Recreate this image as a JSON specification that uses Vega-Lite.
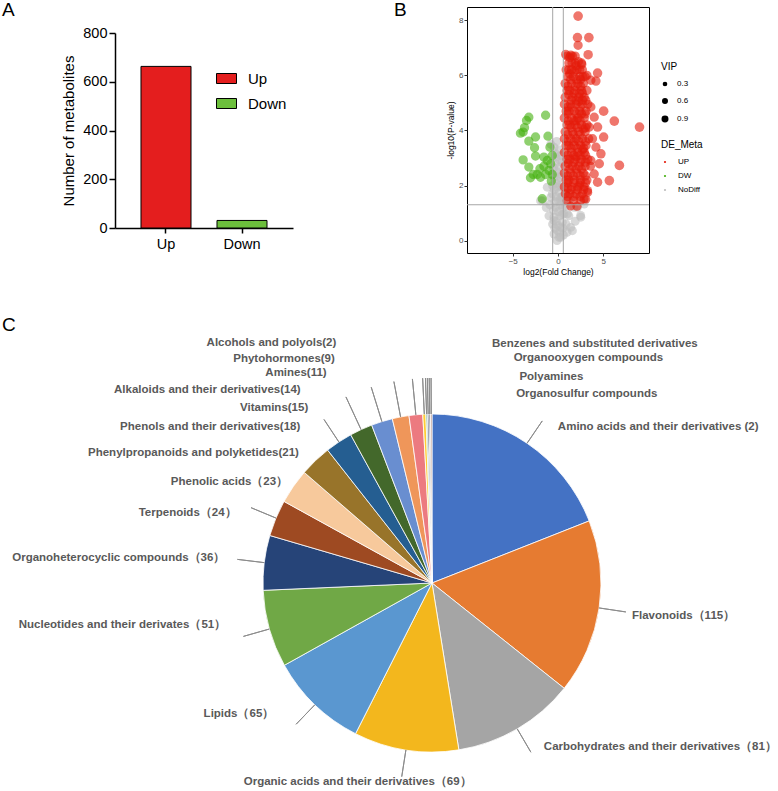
{
  "$schema": "https://vega.github.io/schema/vega-lite/v6.json",
  "padding": {"left": 2, "top": 0, "right": 0, "bottom": 0},
  "config": {"view": {"stroke": null}, "font": "Liberation Sans"},
  "datasets": {
    "bars": [{"g": "Up", "n": 663}, {"g": "Down", "n": 31}],
    "pie": [
      {"o": 1, "n": 131, "lab": "Amino acids and their derivatives (2)"},
      {"o": 2, "n": 115, "lab": "Flavonoids（115）"},
      {"o": 3, "n": 81, "lab": "Carbohydrates and their derivatives（81）"},
      {"o": 4, "n": 69, "lab": "Organic acids and their derivatives（69）"},
      {"o": 5, "n": 65, "lab": "Lipids（65）"},
      {"o": 6, "n": 51, "lab": "Nucleotides and their derivates（51）"},
      {"o": 7, "n": 36, "lab": "Organoheterocyclic compounds（36）"},
      {"o": 8, "n": 24, "lab": "Terpenoids（24）"},
      {"o": 9, "n": 23, "lab": "Phenolic acids（23）"},
      {"o": 10, "n": 21, "lab": "Phenylpropanoids and polyketides(21)"},
      {"o": 11, "n": 18, "lab": "Phenols and their derivatives(18)"},
      {"o": 12, "n": 15, "lab": "Vitamins(15)"},
      {"o": 13, "n": 14, "lab": "Alkaloids and their derivatives(14)"},
      {"o": 14, "n": 11, "lab": "Amines(11)"},
      {"o": 15, "n": 9, "lab": "Phytohormones(9)"},
      {"o": 16, "n": 2, "lab": "Alcohols and polyols(2)"},
      {"o": 17, "n": 1, "lab": "Benzenes and substituted derivatives"},
      {"o": 18, "n": 1, "lab": "Organooxygen compounds"},
      {"o": 19, "n": 1, "lab": "Polyamines"},
      {"o": 20, "n": 1, "lab": "Organosulfur compounds"}
    ],
    "volcano": [
      {"x": -0.8, "y": 3.5, "v": 2.4, "g": "NoDiff"}, {"x": -0.25, "y": 3.15, "v": 2.4, "g": "NoDiff"}, {"x": 0.11, "y": 2.67, "v": 2.4, "g": "NoDiff"}, {"x": -0.44, "y": 2.3, "v": 2.4, "g": "NoDiff"},
      {"x": -0.07, "y": 1.94, "v": 2.4, "g": "NoDiff"}, {"x": -0.8, "y": 1.57, "v": 2.4, "g": "NoDiff"}, {"x": 0.3, "y": 1.57, "v": 2.4, "g": "NoDiff"}, {"x": -0.25, "y": 1.21, "v": 2.4, "g": "NoDiff"},
      {"x": 0.66, "y": 0.97, "v": 2.4, "g": "NoDiff"}, {"x": -0.44, "y": 0.73, "v": 2.4, "g": "NoDiff"}, {"x": 0.3, "y": 0.48, "v": 2.4, "g": "NoDiff"}, {"x": 1.4, "y": 0.48, "v": 2.4, "g": "NoDiff"},
      {"x": 2.5, "y": 0.91, "v": 2.4, "g": "NoDiff"}, {"x": -0.44, "y": 0.24, "v": 2.4, "g": "NoDiff"}, {"x": 0.11, "y": 0.12, "v": 2.4, "g": "NoDiff"}, {"x": 1.77, "y": 1.21, "v": 2.4, "g": "NoDiff"},
      {"x": 2.87, "y": 1.45, "v": 2.4, "g": "NoDiff"}, {"x": -1.72, "y": 1.45, "v": 2.4, "g": "NoDiff"}, {"x": -0.44, "y": 3.39, "v": 2.4, "g": "NoDiff"}, {"x": -0.26, "y": 3.03, "v": 2.4, "g": "NoDiff"},
      {"x": 0.3, "y": 3.09, "v": 2.4, "g": "NoDiff"}, {"x": -0.44, "y": 2.42, "v": 2.4, "g": "NoDiff"}, {"x": -0.07, "y": 2.18, "v": 2.4, "g": "NoDiff"}, {"x": 0.48, "y": 1.94, "v": 2.4, "g": "NoDiff"},
      {"x": -0.63, "y": 1.7, "v": 2.4, "g": "NoDiff"}, {"x": 0.3, "y": 1.45, "v": 2.4, "g": "NoDiff"}, {"x": 1.04, "y": 0.97, "v": 2.4, "g": "NoDiff"}, {"x": -0.44, "y": 0.85, "v": 2.4, "g": "NoDiff"},
      {"x": 0.48, "y": 0.67, "v": 2.4, "g": "NoDiff"}, {"x": 1.59, "y": 0.36, "v": 2.4, "g": "NoDiff"}, {"x": -0.07, "y": 0.36, "v": 2.4, "g": "NoDiff"}, {"x": 2.52, "y": 0.85, "v": 2.4, "g": "NoDiff"},
      {"x": 2.15, "y": 1.21, "v": 2.4, "g": "NoDiff"}, {"x": 1.22, "y": 1.45, "v": 2.4, "g": "NoDiff"}, {"x": 0.3, "y": 0.12, "v": 2.4, "g": "NoDiff"}, {"x": 2.89, "y": 1.33, "v": 2.4, "g": "NoDiff"},
      {"x": 0.85, "y": 1.7, "v": 2.4, "g": "NoDiff"}, {"x": -1.19, "y": 1.94, "v": 2.4, "g": "NoDiff"}, {"x": -1.93, "y": 1.45, "v": 2.4, "g": "NoDiff"}, {"x": 0.0, "y": 0.55, "v": 2.4, "g": "NoDiff"},
      {"x": 0.2, "y": 0.9, "v": 2.4, "g": "NoDiff"}, {"x": -0.2, "y": 1.6, "v": 2.4, "g": "NoDiff"}, {"x": 0.4, "y": 2.4, "v": 2.4, "g": "NoDiff"}, {"x": -0.3, "y": 2.8, "v": 2.4, "g": "NoDiff"},
      {"x": 0.1, "y": 3.3, "v": 2.4, "g": "NoDiff"}, {"x": -0.6, "y": 2.0, "v": 2.4, "g": "NoDiff"}, {"x": 0.5, "y": 1.2, "v": 2.4, "g": "NoDiff"}, {"x": -0.1, "y": 0.0, "v": 2.4, "g": "NoDiff"},
      {"x": 0.6, "y": 0.2, "v": 2.4, "g": "NoDiff"}, {"x": -0.5, "y": 1.1, "v": 2.4, "g": "NoDiff"}, {"x": 0.2, "y": 2.0, "v": 2.4, "g": "NoDiff"}, {"x": -0.1, "y": 2.5, "v": 2.4, "g": "NoDiff"},
      {"x": 0.45, "y": 2.85, "v": 2.4, "g": "NoDiff"}, {"x": 0.9, "y": 0.6, "v": 2.4, "g": "NoDiff"}, {"x": 1.2, "y": 0.9, "v": 2.4, "g": "NoDiff"}, {"x": 0.8, "y": 1.25, "v": 2.4, "g": "NoDiff"},
      {"x": -0.9, "y": 1.3, "v": 2.4, "g": "NoDiff"}, {"x": -0.2, "y": 0.7, "v": 2.4, "g": "NoDiff"}, {"x": 0.25, "y": 1.3, "v": 2.4, "g": "NoDiff"},
      {"x": -0.35, "y": 0.45, "v": 2.4, "g": "NoDiff"}, {"x": 0.15, "y": 0.3, "v": 2.4, "g": "NoDiff"}, {"x": 0.55, "y": 0.45, "v": 2.4, "g": "NoDiff"}, {"x": -0.6, "y": 0.6, "v": 2.4, "g": "NoDiff"},
      {"x": 0.05, "y": 1.05, "v": 2.4, "g": "NoDiff"}, {"x": 0.45, "y": 0.95, "v": 2.4, "g": "NoDiff"}, {"x": -0.35, "y": 1.4, "v": 2.4, "g": "NoDiff"}, {"x": 0.05, "y": 1.45, "v": 2.4, "g": "NoDiff"},
      {"x": 0.5, "y": 1.6, "v": 2.4, "g": "NoDiff"}, {"x": -0.4, "y": 1.85, "v": 2.4, "g": "NoDiff"}, {"x": 0.15, "y": 1.75, "v": 2.4, "g": "NoDiff"}, {"x": -0.25, "y": 2.1, "v": 2.4, "g": "NoDiff"},
      {"x": 0.25, "y": 2.3, "v": 2.4, "g": "NoDiff"}, {"x": -0.5, "y": 2.65, "v": 2.4, "g": "NoDiff"}, {"x": 0.1, "y": 2.95, "v": 2.4, "g": "NoDiff"}, {"x": -0.15, "y": 3.6, "v": 2.4, "g": "NoDiff"},
      {"x": 1.0, "y": 0.3, "v": 2.4, "g": "NoDiff"}, {"x": 1.9, "y": 0.7, "v": 2.4, "g": "NoDiff"}, {"x": -1.3, "y": 1.2, "v": 2.4, "g": "NoDiff"}, {"x": -1.0, "y": 0.9, "v": 2.4, "g": "NoDiff"},
      {"x": -3.22, "y": 4.48, "v": 2.6, "g": "DW"}, {"x": -3.48, "y": 4.36, "v": 2.6, "g": "DW"}, {"x": -3.7, "y": 4.1, "v": 2.6, "g": "DW"}, {"x": -4.15, "y": 3.9, "v": 2.6, "g": "DW"},
      {"x": -3.85, "y": 3.94, "v": 2.6, "g": "DW"}, {"x": -2.48, "y": 3.76, "v": 2.6, "g": "DW"}, {"x": -3.22, "y": 3.61, "v": 2.6, "g": "DW"}, {"x": -2.59, "y": 3.37, "v": 2.6, "g": "DW"},
      {"x": -2.48, "y": 3.07, "v": 2.6, "g": "DW"}, {"x": -3.85, "y": 2.93, "v": 2.6, "g": "DW"}, {"x": -3.22, "y": 2.67, "v": 2.6, "g": "DW"}, {"x": -2.74, "y": 2.4, "v": 2.6, "g": "DW"},
      {"x": -3.04, "y": 2.28, "v": 2.6, "g": "DW"}, {"x": -2.3, "y": 2.4, "v": 2.6, "g": "DW"}, {"x": -1.37, "y": 4.55, "v": 2.6, "g": "DW"}, {"x": -1.11, "y": 3.79, "v": 2.6, "g": "DW"},
      {"x": -0.89, "y": 3.39, "v": 2.6, "g": "DW"}, {"x": -1.56, "y": 2.7, "v": 2.6, "g": "DW"}, {"x": -0.81, "y": 2.79, "v": 2.6, "g": "DW"}, {"x": -1.0, "y": 2.55, "v": 2.6, "g": "DW"},
      {"x": -1.37, "y": 2.4, "v": 2.6, "g": "DW"}, {"x": -0.63, "y": 2.4, "v": 2.6, "g": "DW"}, {"x": -0.74, "y": 2.16, "v": 2.6, "g": "DW"}, {"x": -1.74, "y": 1.52, "v": 2.6, "g": "DW"},
      {"x": -2.0, "y": 2.61, "v": 2.6, "g": "DW"}, {"x": -1.56, "y": 3.03, "v": 2.6, "g": "DW"}, {"x": -0.63, "y": 3.09, "v": 2.6, "g": "DW"}, {"x": -1.93, "y": 2.3, "v": 2.6, "g": "DW"},
      {"x": -1.19, "y": 2.91, "v": 2.6, "g": "DW"},
      {"x": 1.4, "y": 1.25, "v": 2.3, "g": "UP"}, {"x": 2.1, "y": 1.25, "v": 2.5, "g": "UP"}, {"x": 1.0, "y": 1.45, "v": 2.4, "g": "UP"}, {"x": 1.7, "y": 1.45, "v": 2.6, "g": "UP"},
      {"x": 2.5, "y": 1.45, "v": 2.4, "g": "UP"}, {"x": 3.1, "y": 1.5, "v": 2.2, "g": "UP"}, {"x": 0.8, "y": 1.7, "v": 2.5, "g": "UP"}, {"x": 1.3, "y": 1.7, "v": 2.6, "g": "UP"},
      {"x": 2.0, "y": 1.7, "v": 2.7, "g": "UP"}, {"x": 2.7, "y": 1.7, "v": 2.5, "g": "UP"}, {"x": 3.3, "y": 1.75, "v": 2.3, "g": "UP"}, {"x": 0.7, "y": 1.95, "v": 2.6, "g": "UP"},
      {"x": 1.5, "y": 1.95, "v": 2.7, "g": "UP"}, {"x": 2.2, "y": 1.95, "v": 2.6, "g": "UP"}, {"x": 2.9, "y": 1.95, "v": 2.5, "g": "UP"}, {"x": 0.9, "y": 2.2, "v": 2.6, "g": "UP"},
      {"x": 1.2, "y": 2.2, "v": 2.7, "g": "UP"}, {"x": 1.8, "y": 2.2, "v": 2.6, "g": "UP"}, {"x": 2.5, "y": 2.2, "v": 2.7, "g": "UP"}, {"x": 3.2, "y": 2.2, "v": 2.5, "g": "UP"},
      {"x": 0.7, "y": 2.45, "v": 2.6, "g": "UP"}, {"x": 1.4, "y": 2.45, "v": 2.7, "g": "UP"}, {"x": 2.1, "y": 2.45, "v": 2.6, "g": "UP"}, {"x": 2.8, "y": 2.45, "v": 2.6, "g": "UP"},
      {"x": 0.8, "y": 2.7, "v": 2.7, "g": "UP"}, {"x": 1.6, "y": 2.7, "v": 2.6, "g": "UP"}, {"x": 2.3, "y": 2.7, "v": 2.7, "g": "UP"}, {"x": 3.0, "y": 2.7, "v": 2.6, "g": "UP"},
      {"x": 3.6, "y": 2.7, "v": 2.4, "g": "UP"}, {"x": 1.0, "y": 2.95, "v": 2.6, "g": "UP"}, {"x": 1.3, "y": 2.95, "v": 2.7, "g": "UP"}, {"x": 1.9, "y": 2.95, "v": 2.6, "g": "UP"},
      {"x": 2.6, "y": 2.95, "v": 2.7, "g": "UP"}, {"x": 3.3, "y": 2.95, "v": 2.5, "g": "UP"}, {"x": 0.7, "y": 3.2, "v": 2.6, "g": "UP"}, {"x": 1.5, "y": 3.2, "v": 2.7, "g": "UP"},
      {"x": 2.2, "y": 3.2, "v": 2.6, "g": "UP"}, {"x": 2.9, "y": 3.2, "v": 2.7, "g": "UP"}, {"x": 0.9, "y": 3.45, "v": 2.7, "g": "UP"}, {"x": 1.2, "y": 3.45, "v": 2.6, "g": "UP"},
      {"x": 1.8, "y": 3.45, "v": 2.7, "g": "UP"}, {"x": 2.5, "y": 3.45, "v": 2.6, "g": "UP"}, {"x": 3.1, "y": 3.45, "v": 2.6, "g": "UP"}, {"x": 0.7, "y": 3.7, "v": 2.6, "g": "UP"},
      {"x": 1.4, "y": 3.7, "v": 2.7, "g": "UP"}, {"x": 2.0, "y": 3.7, "v": 2.6, "g": "UP"}, {"x": 2.7, "y": 3.7, "v": 2.7, "g": "UP"}, {"x": 3.4, "y": 3.7, "v": 2.5, "g": "UP"},
      {"x": 0.8, "y": 3.95, "v": 2.7, "g": "UP"}, {"x": 1.6, "y": 3.95, "v": 2.6, "g": "UP"}, {"x": 2.3, "y": 3.95, "v": 2.7, "g": "UP"}, {"x": 3.0, "y": 3.95, "v": 2.6, "g": "UP"},
      {"x": 1.0, "y": 4.2, "v": 2.6, "g": "UP"}, {"x": 1.3, "y": 4.2, "v": 2.7, "g": "UP"}, {"x": 1.9, "y": 4.2, "v": 2.6, "g": "UP"}, {"x": 2.6, "y": 4.2, "v": 2.7, "g": "UP"},
      {"x": 3.2, "y": 4.2, "v": 2.6, "g": "UP"}, {"x": 0.7, "y": 4.45, "v": 2.7, "g": "UP"}, {"x": 1.5, "y": 4.45, "v": 2.6, "g": "UP"}, {"x": 2.2, "y": 4.45, "v": 2.7, "g": "UP"},
      {"x": 2.9, "y": 4.45, "v": 2.6, "g": "UP"}, {"x": 0.9, "y": 4.7, "v": 2.6, "g": "UP"}, {"x": 1.2, "y": 4.7, "v": 2.7, "g": "UP"}, {"x": 1.8, "y": 4.7, "v": 2.6, "g": "UP"},
      {"x": 2.4, "y": 4.7, "v": 2.7, "g": "UP"}, {"x": 3.1, "y": 4.7, "v": 2.6, "g": "UP"}, {"x": 0.7, "y": 4.95, "v": 2.6, "g": "UP"}, {"x": 1.4, "y": 4.95, "v": 2.7, "g": "UP"},
      {"x": 2.0, "y": 4.95, "v": 2.6, "g": "UP"}, {"x": 2.7, "y": 4.95, "v": 2.7, "g": "UP"}, {"x": 3.3, "y": 4.95, "v": 2.5, "g": "UP"}, {"x": 0.8, "y": 5.2, "v": 2.7, "g": "UP"},
      {"x": 1.6, "y": 5.2, "v": 2.6, "g": "UP"}, {"x": 2.3, "y": 5.2, "v": 2.7, "g": "UP"}, {"x": 2.9, "y": 5.2, "v": 2.6, "g": "UP"}, {"x": 1.0, "y": 5.45, "v": 2.6, "g": "UP"},
      {"x": 1.3, "y": 5.45, "v": 2.7, "g": "UP"}, {"x": 1.9, "y": 5.45, "v": 2.6, "g": "UP"}, {"x": 2.6, "y": 5.45, "v": 2.7, "g": "UP"}, {"x": 3.2, "y": 5.45, "v": 2.6, "g": "UP"},
      {"x": 0.8, "y": 5.7, "v": 2.7, "g": "UP"}, {"x": 1.5, "y": 5.7, "v": 2.6, "g": "UP"}, {"x": 2.2, "y": 5.7, "v": 2.7, "g": "UP"}, {"x": 2.8, "y": 5.7, "v": 2.6, "g": "UP"},
      {"x": 1.1, "y": 5.95, "v": 2.6, "g": "UP"}, {"x": 1.7, "y": 5.95, "v": 2.7, "g": "UP"}, {"x": 2.4, "y": 5.95, "v": 2.6, "g": "UP"}, {"x": 3.0, "y": 5.95, "v": 2.6, "g": "UP"},
      {"x": 0.9, "y": 6.2, "v": 2.6, "g": "UP"}, {"x": 1.5, "y": 6.2, "v": 2.7, "g": "UP"}, {"x": 2.1, "y": 6.2, "v": 2.6, "g": "UP"}, {"x": 2.7, "y": 6.2, "v": 2.5, "g": "UP"},
      {"x": 1.2, "y": 6.45, "v": 2.6, "g": "UP"}, {"x": 1.9, "y": 6.45, "v": 2.6, "g": "UP"}, {"x": 2.6, "y": 6.45, "v": 2.5, "g": "UP"}, {"x": 1.0, "y": 6.7, "v": 2.5, "g": "UP"},
      {"x": 1.6, "y": 6.7, "v": 2.6, "g": "UP"},
      {"x": 1.1, "y": 1.9, "v": 2.6, "g": "UP"}, {"x": 2.4, "y": 2.0, "v": 2.6, "g": "UP"}, {"x": 1.7, "y": 2.35, "v": 2.6, "g": "UP"}, {"x": 2.6, "y": 2.6, "v": 2.6, "g": "UP"},
      {"x": 1.1, "y": 2.8, "v": 2.6, "g": "UP"}, {"x": 2.0, "y": 3.05, "v": 2.6, "g": "UP"}, {"x": 2.7, "y": 3.3, "v": 2.6, "g": "UP"}, {"x": 1.0, "y": 3.6, "v": 2.6, "g": "UP"},
      {"x": 2.3, "y": 3.6, "v": 2.6, "g": "UP"}, {"x": 1.7, "y": 3.85, "v": 2.6, "g": "UP"}, {"x": 2.8, "y": 4.05, "v": 2.6, "g": "UP"}, {"x": 1.1, "y": 4.35, "v": 2.6, "g": "UP"},
      {"x": 2.0, "y": 4.35, "v": 2.6, "g": "UP"}, {"x": 2.6, "y": 4.6, "v": 2.6, "g": "UP"}, {"x": 1.5, "y": 4.85, "v": 2.6, "g": "UP"}, {"x": 2.3, "y": 5.05, "v": 2.6, "g": "UP"},
      {"x": 1.2, "y": 5.3, "v": 2.6, "g": "UP"}, {"x": 2.7, "y": 5.35, "v": 2.6, "g": "UP"}, {"x": 1.9, "y": 5.6, "v": 2.6, "g": "UP"}, {"x": 2.5, "y": 5.85, "v": 2.6, "g": "UP"},
      {"x": 1.3, "y": 6.05, "v": 2.6, "g": "UP"}, {"x": 2.0, "y": 6.35, "v": 2.6, "g": "UP"},
      {"x": 1.05, "y": 1.6, "v": 2.6, "g": "UP"}, {"x": 1.75, "y": 1.6, "v": 2.6, "g": "UP"}, {"x": 2.45, "y": 1.6, "v": 2.6, "g": "UP"}, {"x": 1.45, "y": 1.85, "v": 2.6, "g": "UP"},
      {"x": 2.15, "y": 1.85, "v": 2.6, "g": "UP"}, {"x": 2.85, "y": 1.85, "v": 2.6, "g": "UP"}, {"x": 1.05, "y": 2.1, "v": 2.6, "g": "UP"}, {"x": 1.75, "y": 2.1, "v": 2.6, "g": "UP"},
      {"x": 2.45, "y": 2.1, "v": 2.6, "g": "UP"}, {"x": 3.05, "y": 2.1, "v": 2.6, "g": "UP"}, {"x": 1.05, "y": 2.35, "v": 2.6, "g": "UP"}, {"x": 2.45, "y": 2.35, "v": 2.6, "g": "UP"},
      {"x": 3.05, "y": 2.35, "v": 2.6, "g": "UP"}, {"x": 1.3, "y": 2.6, "v": 2.6, "g": "UP"}, {"x": 2.0, "y": 2.6, "v": 2.6, "g": "UP"}, {"x": 1.75, "y": 2.85, "v": 2.6, "g": "UP"},
      {"x": 2.45, "y": 2.85, "v": 2.6, "g": "UP"}, {"x": 3.05, "y": 2.85, "v": 2.6, "g": "UP"}, {"x": 1.05, "y": 3.1, "v": 2.6, "g": "UP"}, {"x": 1.75, "y": 3.1, "v": 2.6, "g": "UP"},
      {"x": 2.45, "y": 3.1, "v": 2.6, "g": "UP"}, {"x": 3.05, "y": 3.1, "v": 2.6, "g": "UP"}, {"x": 1.45, "y": 3.35, "v": 2.6, "g": "UP"}, {"x": 2.15, "y": 3.35, "v": 2.6, "g": "UP"},
      {"x": 2.85, "y": 3.35, "v": 2.6, "g": "UP"}, {"x": 1.75, "y": 3.6, "v": 2.6, "g": "UP"}, {"x": 3.05, "y": 3.6, "v": 2.6, "g": "UP"}, {"x": 1.05, "y": 3.85, "v": 2.6, "g": "UP"},
      {"x": 2.45, "y": 3.85, "v": 2.6, "g": "UP"}, {"x": 1.45, "y": 4.1, "v": 2.6, "g": "UP"}, {"x": 2.15, "y": 4.1, "v": 2.6, "g": "UP"}, {"x": 3.05, "y": 4.1, "v": 2.6, "g": "UP"},
      {"x": 1.75, "y": 4.35, "v": 2.6, "g": "UP"}, {"x": 2.45, "y": 4.35, "v": 2.6, "g": "UP"}, {"x": 1.05, "y": 4.6, "v": 2.6, "g": "UP"}, {"x": 2.05, "y": 4.6, "v": 2.6, "g": "UP"},
      {"x": 3.0, "y": 4.6, "v": 2.6, "g": "UP"}, {"x": 1.05, "y": 4.85, "v": 2.6, "g": "UP"}, {"x": 2.45, "y": 4.85, "v": 2.6, "g": "UP"}, {"x": 1.45, "y": 5.1, "v": 2.6, "g": "UP"},
      {"x": 2.0, "y": 5.1, "v": 2.6, "g": "UP"}, {"x": 2.7, "y": 5.1, "v": 2.6, "g": "UP"}, {"x": 1.75, "y": 5.35, "v": 2.6, "g": "UP"}, {"x": 2.35, "y": 5.35, "v": 2.6, "g": "UP"},
      {"x": 1.05, "y": 5.6, "v": 2.6, "g": "UP"}, {"x": 2.5, "y": 5.6, "v": 2.6, "g": "UP"}, {"x": 1.4, "y": 5.85, "v": 2.6, "g": "UP"}, {"x": 2.05, "y": 5.85, "v": 2.6, "g": "UP"},
      {"x": 2.75, "y": 5.95, "v": 2.6, "g": "UP"}, {"x": 1.2, "y": 6.2, "v": 2.6, "g": "UP"}, {"x": 1.8, "y": 6.15, "v": 2.6, "g": "UP"}, {"x": 2.4, "y": 6.2, "v": 2.6, "g": "UP"},
      {"x": 1.55, "y": 6.45, "v": 2.6, "g": "UP"}, {"x": 2.25, "y": 6.5, "v": 2.6, "g": "UP"}, {"x": 1.3, "y": 6.65, "v": 2.6, "g": "UP"}, {"x": 1.9, "y": 6.7, "v": 2.6, "g": "UP"},
      {"x": 2.22, "y": 8.15, "v": 2.8, "g": "UP"}, {"x": 2.15, "y": 7.37, "v": 2.7, "g": "UP"}, {"x": 3.41, "y": 7.37, "v": 2.8, "g": "UP"}, {"x": 2.22, "y": 7.09, "v": 2.6, "g": "UP"},
      {"x": 3.33, "y": 6.75, "v": 2.7, "g": "UP"}, {"x": 0.85, "y": 6.76, "v": 2.6, "g": "UP"}, {"x": 1.41, "y": 6.73, "v": 2.6, "g": "UP"}, {"x": 2.63, "y": 6.4, "v": 2.6, "g": "UP"},
      {"x": 4.37, "y": 6.08, "v": 2.7, "g": "UP"}, {"x": 4.19, "y": 5.79, "v": 2.6, "g": "UP"}, {"x": 3.63, "y": 5.82, "v": 2.6, "g": "UP"}, {"x": 3.19, "y": 6.0, "v": 2.6, "g": "UP"},
      {"x": 5.04, "y": 4.7, "v": 2.8, "g": "UP"}, {"x": 6.22, "y": 4.34, "v": 2.8, "g": "UP"}, {"x": 9.0, "y": 4.12, "v": 2.8, "g": "UP"}, {"x": 4.37, "y": 4.12, "v": 2.7, "g": "UP"},
      {"x": 5.04, "y": 3.76, "v": 2.7, "g": "UP"}, {"x": 4.0, "y": 4.48, "v": 2.6, "g": "UP"}, {"x": 3.81, "y": 3.7, "v": 2.6, "g": "UP"}, {"x": 4.74, "y": 3.15, "v": 2.7, "g": "UP"},
      {"x": 4.56, "y": 2.79, "v": 2.7, "g": "UP"}, {"x": 6.78, "y": 2.73, "v": 2.8, "g": "UP"}, {"x": 5.67, "y": 2.18, "v": 2.8, "g": "UP"}, {"x": 4.37, "y": 2.12, "v": 2.7, "g": "UP"},
      {"x": 4.0, "y": 2.42, "v": 2.6, "g": "UP"}, {"x": 3.63, "y": 2.91, "v": 2.6, "g": "UP"}, {"x": 4.19, "y": 3.39, "v": 2.6, "g": "UP"}, {"x": 3.26, "y": 1.82, "v": 2.5, "g": "UP"},
      {"x": 2.89, "y": 1.52, "v": 2.5, "g": "UP"}, {"x": 3.44, "y": 4.12, "v": 2.6, "g": "UP"}, {"x": 3.07, "y": 5.09, "v": 2.6, "g": "UP"}, {"x": 3.63, "y": 4.85, "v": 2.6, "g": "UP"}
    ]
  },
  "columns": 1,
  "align": "none",
  "spacing": 40,
  "resolve": {"scale": {"color": "independent", "size": "independent", "theta": "independent"}, "legend": {"color": "independent", "size": "independent"}},
  "concat": [
    {
      "columns": 2,
      "align": "none",
      "spacing": 100,
      "resolve": {"scale": {"color": "independent", "size": "independent"}, "legend": {"color": "independent", "size": "independent"}},
      "concat": [
        {
          "width": 178,
          "height": 221,
          "title": {"text": "A", "anchor": "start", "frame": "group", "dx": -113, "offset": -13, "fontSize": 19, "fontWeight": "normal", "color": "black"},
          "data": {"name": "bars"},
          "mark": {"type": "bar", "stroke": "black", "strokeWidth": 1},
          "encoding": {
            "x": {"field": "g", "type": "nominal", "sort": ["Up", "Down"], "scale": {"paddingInner": 0.342, "paddingOuter": 0.342},
                  "axis": {"title": null, "labelAngle": 0, "labelFontSize": 14.5, "labelColor": "black", "domainColor": "black", "domainWidth": 1.5, "tickColor": "black", "tickWidth": 1.5, "tickSize": 5, "labelPadding": 4}},
            "y": {"field": "n", "type": "quantitative", "scale": {"domain": [0, 800], "nice": false, "range": [221, 26]},
                  "axis": {"title": "Number of metabolites", "values": [0, 200, 400, 600, 800], "grid": false, "labelFontSize": 14.5, "labelColor": "black", "titleFontSize": 15, "titleFontWeight": "normal", "titleColor": "black", "domainColor": "black", "domainWidth": 1.5, "tickColor": "black", "tickWidth": 1.5, "tickSize": 6, "labelPadding": 2, "titlePadding": 6}},
            "color": {"field": "g", "type": "nominal", "scale": {"domain": ["Up", "Down"], "range": ["#E41E1E", "#6CBF3C"]},
                      "legend": {"title": null, "orient": "none", "legendX": 101, "legendY": 61, "symbolType": "M-1,-0.5H1V0.5H-1Z", "symbolSize": 400, "symbolStrokeColor": "black", "symbolStrokeWidth": 1, "labelFontSize": 15, "labelColor": "black", "rowPadding": 6, "labelOffset": 11}}
          }
        },
        {
          "width": 182,
          "height": 246,
          "view": {"stroke": "black", "strokeWidth": 1},
          "title": {"text": "B", "anchor": "start", "frame": "group", "dx": -73, "offset": -13, "fontSize": 19, "fontWeight": "normal", "color": "black"},
          "layer": [
            {
              "data": {"name": "volcano"},
              "mark": {"type": "circle", "opacity": 0.6},
              "encoding": {
                "x": {"field": "x", "type": "quantitative", "title": "log2(Fold Change)", "scale": {"domain": [-10.05, 10.05], "nice": false, "zero": false},
                      "axis": {"values": [-5, 0, 5], "grid": false, "domain": false, "tickColor": "#333333", "tickSize": 3, "labelColor": "#4D4D4D", "labelFontSize": 8, "labelPadding": 1, "titleFontSize": 8.5, "titleFontWeight": "normal", "titleColor": "black", "titlePadding": 2}},
                "y": {"field": "y", "type": "quantitative", "title": "-log10(P-value)", "scale": {"domain": [-0.45, 8.48], "nice": false, "zero": false},
                      "axis": {"values": [0, 2, 4, 6, 8], "grid": false, "domain": false, "tickColor": "#333333", "tickSize": 3, "labelColor": "#4D4D4D", "labelFontSize": 8, "labelPadding": 1, "titleFontSize": 8.5, "titleFontWeight": "normal", "titleColor": "black", "titlePadding": 3}},
                "size": {"field": "v", "type": "quantitative", "scale": {"type": "linear", "domain": [0, 3], "range": [0, 100]},
                         "legend": {"title": "VIP", "orient": "none", "legendX": 194, "legendY": 55, "values": [0.3, 0.6, 0.9], "symbolFillColor": "black", "symbolStrokeColor": "black", "symbolOpacity": 1, "titleFontSize": 10, "titleFontWeight": "normal", "labelFontSize": 8, "rowPadding": 6, "labelOffset": 8, "titlePadding": 8}},
                "color": {"field": "g", "type": "nominal", "scale": {"domain": ["UP", "DW", "NoDiff"], "range": ["#E41A0A", "#45B00F", "#BEBEBE"]},
                          "legend": {"title": "DE_Meta", "orient": "none", "legendX": 194, "legendY": 133, "symbolType": "circle", "symbolSize": 5, "symbolOpacity": 1, "titleFontSize": 10, "titleFontWeight": "normal", "labelFontSize": 8, "rowPadding": 6, "labelOffset": 9, "titlePadding": 8}}
              }
            },
            {
              "data": {"values": [{"t": -0.585}, {"t": 0.585}]},
              "mark": {"type": "rule", "color": "#A6A6A6", "strokeWidth": 1},
              "encoding": {"x": {"field": "t", "type": "quantitative", "title": "log2(Fold Change)"}}
            },
            {
              "data": {"values": [{"t": 1.301}]},
              "mark": {"type": "rule", "color": "#A6A6A6", "strokeWidth": 1},
              "encoding": {"y": {"field": "t", "type": "quantitative", "title": "-log10(P-value)"}}
            }
          ]
        }
      ]
    },
    {
      "width": 634,
      "height": 400,
      "title": {"text": "C", "anchor": "start", "frame": "group", "dx": -113, "offset": 2, "fontSize": 19, "fontWeight": "normal", "color": "black"},
      "data": {"name": "pie"},
      "encoding": {
        "theta": {"field": "n", "type": "quantitative", "stack": true},
        "order": {"field": "o", "type": "quantitative", "sort": "ascending"}
      },
      "layer": [
        {
          "mark": {"type": "arc", "radius": 169, "stroke": "white", "strokeWidth": 0.8},
          "encoding": {
            "color": {"field": "o", "type": "nominal", "legend": null,
                      "scale": {"domain": [1, 2, 3, 4, 5, 6, 7, 8, 9, 10, 11, 12, 13, 14, 15, 16, 17, 18, 19, 20],
                                "range": ["#4472C4", "#E67B31", "#A5A5A5", "#F3B71D", "#5A97D0", "#70A846", "#264478", "#9E4A22", "#F7C99C", "#98742A", "#255E91", "#43682B", "#698ED0", "#EF965A", "#EC7A80", "#FFCD33", "#8CC19E", "#2B3A66", "#7A7A7A", "#B9938A"]}}
          }
        },
        {
          "mark": {"type": "arc", "radius": 196, "radius2": 169, "padAngle": 1.2, "filled": false, "stroke": "#8C8C8C", "strokeWidth": 1},
          "encoding": {"strokeOpacity": {"condition": {"test": "indexof([1,2,3,4,5,6,7,8,11], datum.o) >= 0", "value": 1}, "value": 0}}
        },
        {
          "mark": {"type": "arc", "radius": 205, "radius2": 169, "padAngle": 1.2, "filled": false, "stroke": "#8C8C8C", "strokeWidth": 1},
          "encoding": {"strokeOpacity": {"condition": {"test": "indexof([12,13,14,15,16,17,18,19,20], datum.o) >= 0", "value": 1}, "value": 0}}
        },
        {"mark": {"type": "text", "radius": 190, "align": "left", "baseline": "middle", "dx": 19, "dy": 1, "fontSize": 11.5, "fontWeight": "bold", "color": "#595959"}, "encoding": {"text": {"condition": {"test": "datum.o === 1", "field": "lab"}, "value": ""}}},
        {"mark": {"type": "text", "radius": 190, "align": "left", "baseline": "middle", "dx": 12, "dy": 5, "fontSize": 11.5, "fontWeight": "bold", "color": "#595959"}, "encoding": {"text": {"condition": {"test": "datum.o === 2", "field": "lab"}, "value": ""}}},
        {"mark": {"type": "text", "radius": 190, "align": "left", "baseline": "middle", "dx": 16, "dy": 0, "fontSize": 11.5, "fontWeight": "bold", "color": "#595959"}, "encoding": {"text": {"condition": {"test": "datum.o === 3", "field": "lab"}, "value": ""}}},
        {"mark": {"type": "text", "radius": 190, "align": "center", "baseline": "middle", "dx": -45, "dy": 11, "fontSize": 11.5, "fontWeight": "bold", "color": "#595959"}, "encoding": {"text": {"condition": {"test": "datum.o === 4", "field": "lab"}, "value": ""}}},
        {"mark": {"type": "text", "radius": 190, "align": "right", "baseline": "middle", "dx": -26, "dy": -6, "fontSize": 11.5, "fontWeight": "bold", "color": "#595959"}, "encoding": {"text": {"condition": {"test": "datum.o === 5", "field": "lab"}, "value": ""}}},
        {"mark": {"type": "text", "radius": 190, "align": "right", "baseline": "middle", "dx": -23, "dy": -10, "fontSize": 11.5, "fontWeight": "bold", "color": "#595959"}, "encoding": {"text": {"condition": {"test": "datum.o === 6", "field": "lab"}, "value": ""}}},
        {"mark": {"type": "text", "radius": 190, "align": "right", "baseline": "middle", "dx": -18, "dy": -2, "fontSize": 11.5, "fontWeight": "bold", "color": "#595959"}, "encoding": {"text": {"condition": {"test": "datum.o === 7", "field": "lab"}, "value": ""}}},
        {"mark": {"type": "text", "radius": 190, "align": "right", "baseline": "middle", "dx": -20, "dy": 3, "fontSize": 11.5, "fontWeight": "bold", "color": "#595959"}, "encoding": {"text": {"condition": {"test": "datum.o === 8", "field": "lab"}, "value": ""}}},
        {"mark": {"type": "text", "radius": 190, "align": "right", "baseline": "middle", "dx": 12, "dy": 8, "fontSize": 11.5, "fontWeight": "bold", "color": "#595959"}, "encoding": {"text": {"condition": {"test": "datum.o === 9", "field": "lab"}, "value": ""}}},
        {"mark": {"type": "text", "radius": 190, "align": "right", "baseline": "middle", "dx": -2, "dy": 8, "fontSize": 11.5, "fontWeight": "bold", "color": "#595959"}, "encoding": {"text": {"condition": {"test": "datum.o === 10", "field": "lab"}, "value": ""}}},
        {"mark": {"type": "text", "radius": 190, "align": "right", "baseline": "middle", "dx": -27, "dy": 3, "fontSize": 11.5, "fontWeight": "bold", "color": "#595959"}, "encoding": {"text": {"condition": {"test": "datum.o === 11", "field": "lab"}, "value": ""}}},
        {"mark": {"type": "text", "radius": 190, "align": "right", "baseline": "middle", "dx": -44, "dy": -3, "fontSize": 11.5, "fontWeight": "bold", "color": "#595959"}, "encoding": {"text": {"condition": {"test": "datum.o === 12", "field": "lab"}, "value": ""}}},
        {"mark": {"type": "text", "radius": 190, "align": "right", "baseline": "middle", "dx": -75, "dy": -12, "fontSize": 11.5, "fontWeight": "bold", "color": "#595959"}, "encoding": {"text": {"condition": {"test": "datum.o === 13", "field": "lab"}, "value": ""}}},
        {"mark": {"type": "text", "radius": 190, "align": "right", "baseline": "middle", "dx": -70, "dy": -23, "fontSize": 11.5, "fontWeight": "bold", "color": "#595959"}, "encoding": {"text": {"condition": {"test": "datum.o === 14", "field": "lab"}, "value": ""}}},
        {"mark": {"type": "text", "radius": 190, "align": "right", "baseline": "middle", "dx": -79, "dy": -35, "fontSize": 11.5, "fontWeight": "bold", "color": "#595959"}, "encoding": {"text": {"condition": {"test": "datum.o === 15", "field": "lab"}, "value": ""}}},
        {"mark": {"type": "text", "radius": 190, "align": "right", "baseline": "middle", "dx": -87, "dy": -50, "fontSize": 11.5, "fontWeight": "bold", "color": "#595959"}, "encoding": {"text": {"condition": {"test": "datum.o === 16", "field": "lab"}, "value": ""}}},
        {"mark": {"type": "text", "radius": 190, "align": "left", "baseline": "middle", "dx": 66, "dy": -49, "fontSize": 11.5, "fontWeight": "bold", "color": "#595959"}, "encoding": {"text": {"condition": {"test": "datum.o === 17", "field": "lab"}, "value": ""}}},
        {"mark": {"type": "text", "radius": 190, "align": "left", "baseline": "middle", "dx": 86, "dy": -35, "fontSize": 11.5, "fontWeight": "bold", "color": "#595959"}, "encoding": {"text": {"condition": {"test": "datum.o === 18", "field": "lab"}, "value": ""}}},
        {"mark": {"type": "text", "radius": 190, "align": "left", "baseline": "middle", "dx": 90, "dy": -16, "fontSize": 11.5, "fontWeight": "bold", "color": "#595959"}, "encoding": {"text": {"condition": {"test": "datum.o === 19", "field": "lab"}, "value": ""}}},
        {"mark": {"type": "text", "radius": 190, "align": "left", "baseline": "middle", "dx": 85, "dy": 1, "fontSize": 11.5, "fontWeight": "bold", "color": "#595959"}, "encoding": {"text": {"condition": {"test": "datum.o === 20", "field": "lab"}, "value": ""}}}
      ]
    }
  ]
}
